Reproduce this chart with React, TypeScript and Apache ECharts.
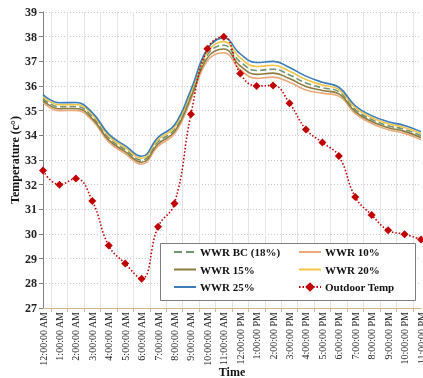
import React, { useEffect, useRef } from "react";
import * as echarts from "echarts";

const hours = [
  "12:00:00 AM", "1:00:00 AM", "2:00:00 AM", "3:00:00 AM", "4:00:00 AM", "5:00:00 AM",
  "6:00:00 AM", "7:00:00 AM", "8:00:00 AM", "9:00:00 AM", "10:00:00 AM", "11:00:00 AM",
  "12:00:00 PM", "1:00:00 PM", "2:00:00 PM", "3:00:00 PM", "4:00:00 PM", "5:00:00 PM",
  "6:00:00 PM", "7:00:00 PM", "8:00:00 PM", "9:00:00 PM", "10:00:00 PM", "11:00:00 PM",
];

const wwr25 = [35.65, 35.32, 35.33, 34.92, 34.05, 33.58, 33.15, 33.92, 34.42, 35.85, 37.5, 37.95, 37.3, 36.95, 37.0, 36.75, 36.4, 36.15, 35.95, 35.2, 34.8, 34.55, 34.4, 34.15];
const wwr20 = [35.57, 35.24, 35.25, 34.84, 33.97, 33.5, 33.07, 33.83, 34.33, 35.75, 37.38, 37.8, 37.14, 36.79, 36.84, 36.6, 36.26, 36.04, 35.86, 35.12, 34.72, 34.47, 34.32, 34.07];
const wwrBC = [35.49, 35.16, 35.17, 34.76, 33.89, 33.42, 32.99, 33.74, 34.24, 35.65, 37.26, 37.65, 36.98, 36.63, 36.68, 36.45, 36.12, 35.93, 35.77, 35.04, 34.64, 34.39, 34.24, 33.99];
const wwr15 = [35.41, 35.08, 35.09, 34.68, 33.81, 33.34, 32.91, 33.65, 34.15, 35.55, 37.14, 37.5, 36.82, 36.47, 36.52, 36.3, 35.98, 35.82, 35.68, 34.96, 34.56, 34.31, 34.16, 33.91];
const wwr10 = [35.33, 35.0, 35.01, 34.6, 33.73, 33.26, 32.83, 33.56, 34.06, 35.45, 37.02, 37.35, 36.66, 36.31, 36.36, 36.15, 35.84, 35.71, 35.59, 34.88, 34.48, 34.23, 34.08, 33.83];
const outdoor = [32.57, 32.0, 32.25, 31.34, 29.53, 28.8, 28.19, 30.29, 31.24, 34.85, 37.51, 38.0, 36.51, 36.0, 36.02, 35.3, 34.24, 33.71, 33.16, 31.5, 30.77, 30.15, 29.99, 29.78];

const yTicks = { min: 27, max: 39, step: 1 };

const FONT = "'Liberation Serif', 'Times New Roman', serif";

export default function App() {
  const ref = useRef<HTMLDivElement>(null);
  useEffect(() => {
    if (!ref.current) return;
    const chart = echarts.init(ref.current, null, { renderer: "svg" });
    const pairs = (arr: number[]) => arr.map((v, i) => [i, v]);
    const lineSeries = (name: string, data: number[], color: string, type: string = "solid") => ({
      name,
      type: "line",
      data: pairs(data),
      smooth: 0.45,
      symbol: "none",
      lineStyle: { color, width: 1.6, type },
      itemStyle: { color },
      z: 2,
    });
    const legendText = { fontFamily: FONT, fontWeight: "bold", fontSize: 11, color: "#111", lineHeight: 12, padding: [0, 0, 0, -1] };
    const hideSym = (name: string) => ({ name, itemStyle: { opacity: 0 } });
    chart.setOption({
      animation: false,
      grid: { left: 43, right: 2, top: 12, bottom: 70, containLabel: false, outerBoundsMode: "none" },
      xAxis: {
        type: "value",
        min: 0,
        max: 23,
        interval: 1,
        name: "Time",
        nameLocation: "middle",
        nameGap: 58,
        nameMoveOverlap: false,
        nameTextStyle: { fontFamily: FONT, fontWeight: "bold", fontSize: 12, color: "#111" },
        axisLine: { show: true, lineStyle: { color: "#d6b48c", width: 1 } },
        axisTick: { show: false },
        minorTick: { show: true, splitNumber: 2, length: 4, lineStyle: { color: "#d6b48c" } },
        splitLine: { show: false },
        minorSplitLine: { show: true, lineStyle: { color: "#e4e4e4", width: 1 } },
        axisLabel: {
          rotate: 90,
          fontFamily: FONT,
          fontSize: 10,
          color: "#222",
          margin: 4,
          showMaxLabel: true,
          hideOverlap: false,
          formatter: (v: number) => hours[v] ?? "",
        },
      },
      yAxis: {
        type: "value",
        min: yTicks.min,
        max: yTicks.max,
        interval: yTicks.step,
        name: "Temperature (c°)",
        nameLocation: "middle",
        nameGap: 22,
        nameMoveOverlap: false,
        nameTextStyle: { fontFamily: FONT, fontWeight: "bold", fontSize: 12, color: "#111" },
        axisLine: { show: true, lineStyle: { color: "#7f7f7f", width: 1 } },
        axisTick: { show: true, length: 4, lineStyle: { color: "#7f7f7f" } },
        splitLine: { show: true, lineStyle: { color: "#c8c8c8", type: [1, 2] } },
        axisLabel: { fontFamily: FONT, fontWeight: "bold", fontSize: 12, color: "#222", margin: 6 },
      },
      legend: [
        {
          orient: "vertical",
          left: 173,
          top: 246,
          padding: 0,
          itemWidth: 22,
          itemHeight: 12,
          itemGap: 5.5,
          textStyle: legendText,
          data: [hideSym("WWR BC (18%)"), hideSym("WWR 15%"), hideSym("WWR 25%")],
        },
        {
          orient: "vertical",
          left: 298,
          top: 246,
          padding: 0,
          itemWidth: 22,
          itemHeight: 12,
          itemGap: 5.5,
          textStyle: legendText,
          data: [hideSym("WWR 10%"), hideSym("WWR 20%"), { name: "Outdoor Temp" }],
        },
      ],
      graphic: [
        {
          type: "rect",
          z: 3,
          shape: { x: 160.5, y: 243.5, width: 255, height: 57 },
          style: { fill: "#ffffff", stroke: "#7f7f7f", lineWidth: 1 },
        },
      ],
      series: [
        lineSeries("WWR 10%", wwr10, "#eba878"),
        lineSeries("WWR 15%", wwr15, "#8c7a3e"),
        lineSeries("WWR BC (18%)", wwrBC, "#6f9470", "dashed"),
        lineSeries("WWR 20%", wwr20, "#f2c545"),
        lineSeries("WWR 25%", wwr25, "#3a7db8"),
        {
          name: "Outdoor Temp",
          type: "line",
          data: pairs(outdoor),
          smooth: 0.45,
          symbol: "diamond",
          symbolSize: 8,
          lineStyle: { color: "#c00000", width: 1.6, type: [1.5, 2] },
          itemStyle: { color: "#c00000" },
          z: 3,
        },
      ],
    });
    return () => chart.dispose();
  }, []);
  return <div ref={ref} style={{ position: "fixed", left: 0, top: 0, width: 423, height: 378 }} />;
}
